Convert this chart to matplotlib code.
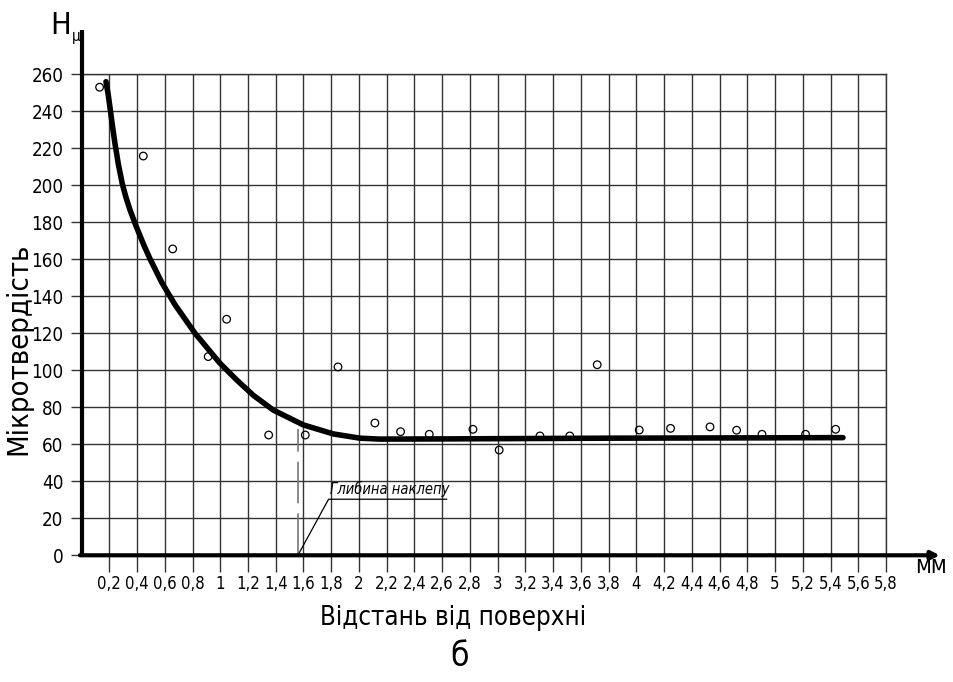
import matplotlib
matplotlib.use('Agg')
import matplotlib.pyplot as plt

# вузький шрифт (DejaVu Sans Condensed)
plt.rcParams['font.family'] = ['DejaVu Sans']
plt.rcParams['font.stretch'] = 'condensed'

# експериментальні точки
pts_x = [0.13, 0.445, 0.657, 0.913, 1.046, 1.349, 1.613, 1.849, 2.115, 2.30,
         2.507, 2.822, 3.011, 3.305, 3.52, 3.718, 4.021, 4.247, 4.531, 4.723,
         4.906, 5.22, 5.437]
pts_y = [253, 215.8, 165.6, 107.4, 127.6, 65.0, 65.0, 101.8, 71.5, 66.8,
         65.4, 68.1, 56.9, 64.5, 64.5, 103, 67.7, 68.6, 69.4, 67.6,
         65.4, 65.4, 68.1]

# апроксимуюча крива
curve_x = [0.176, 0.193, 0.205, 0.221, 0.241, 0.265, 0.293, 0.32, 0.35, 0.38,
           0.409, 0.45, 0.493, 0.578, 0.673, 0.818, 0.998, 1.118, 1.238, 1.382,
           1.598, 1.815, 2.007, 2.151, 2.6, 3.2, 3.8, 4.4, 5.0, 5.49]
curve_y = [256, 248.5, 242, 233, 222.5, 211.5, 201, 193.5, 186.5, 180.5,
           175, 167.5, 160.3, 147.5, 135.5, 120, 103.8, 94.8, 86.5, 78.5,
           70.5, 65.6, 63.3, 62.8, 62.9, 63.1, 63.3, 63.4, 63.5, 63.6]

x_ticks = [0.2 * i for i in range(1, 30)]
x_labels = ['0,2', '0,4', '0,6', '0,8', '1', '1,2', '1,4', '1,6', '1,8', '2',
            '2,2', '2,4', '2,6', '2,8', '3', '3,2', '3,4', '3,6', '3,8', '4',
            '4,2', '4,4', '4,6', '4,8', '5', '5,2', '5,4', '5,6', '5,8']
y_ticks = list(range(0, 261, 20))

depth = 1.56          # глибина наклепу, мм

fig = plt.figure(figsize=(9.54, 6.82), dpi=100)
ax = fig.add_axes([0.0855, 0.1858, 0.8432, 0.7053])
ax.set_xlim(0, 5.8)
ax.set_ylim(0, 260)

ax.set_xticks(x_ticks)
ax.set_xticklabels(x_labels)
ax.set_yticks(y_ticks)
ax.tick_params(axis='x', length=12, width=1, color='#333333', labelsize=12, pad=2)
ax.tick_params(axis='y', length=8, width=1, color='#333333', labelsize=13.5, pad=5)
ax.grid(True, color='#333333', linewidth=1)
ax.set_axisbelow(True)

for s in ['top', 'right']:
    ax.spines[s].set_linewidth(1)
    ax.spines[s].set_color('#333333')
ax.spines['left'].set_visible(False)
ax.spines['bottom'].set_visible(False)

# товсті осі, що виходять за межі сітки
ax.plot([0, 0], [0, 1.092], transform=ax.transAxes, color='black', lw=3,
        clip_on=False, solid_capstyle='butt', zorder=5)
ax.annotate('', xy=(1.067, 0), xytext=(-0.002, 0), xycoords='axes fraction',
            arrowprops=dict(arrowstyle='-|>', color='black', lw=3,
                            mutation_scale=12, shrinkA=0, shrinkB=0), zorder=5)

ax.scatter(pts_x, pts_y, s=30, facecolors='none', edgecolors='black',
           linewidths=0.9, zorder=4)
ax.plot(curve_x, curve_y, color='black', lw=4, solid_capstyle='round',
        solid_joinstyle='round', zorder=3)

# глибина наклепу
ax.plot([depth, depth], [0, 68], color='#777777', lw=1.2, dashes=(25, 6), zorder=3)
ax.plot([depth, 1.781, 2.632], [0, 30.3, 30.3], color='black', lw=0.9, zorder=3)
ax.text(1.79, 31.5, 'Глибина наклепу', fontsize=10.5, style='italic',
        ha='left', va='bottom')

# підписи
fig.text(61 / 954, 1 - 25 / 682, 'H', fontsize=22, ha='center', va='center')
fig.text(76 / 954, 1 - 37 / 682, 'μ', fontsize=11, ha='center', va='center')
fig.text(931 / 954, 1 - 566 / 682, 'мм', fontsize=17, ha='center', va='center')
fig.text(18 / 954, 1 - 349 / 682, 'Мікротвердість', fontsize=21, rotation=90,
         ha='center', va='center')
fig.text(453 / 954, 1 - 618 / 682, 'Відстань від поверхні', fontsize=18.5,
         ha='center', va='center')
fig.text(460 / 954, 1 - 656 / 682, 'б', fontsize=24, ha='center', va='center')

fig.savefig('out.png', dpi=100)
